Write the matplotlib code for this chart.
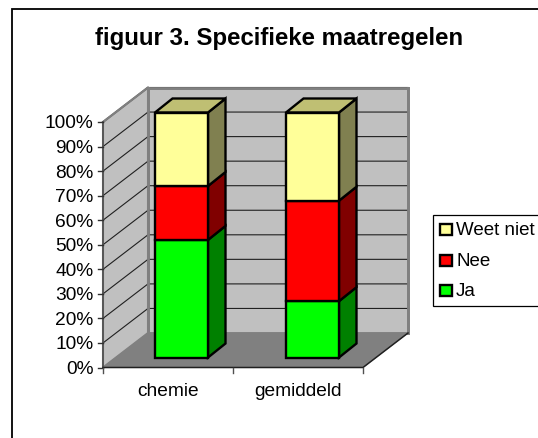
import matplotlib
matplotlib.use("Agg")
import matplotlib.pyplot as plt
from matplotlib.patches import Polygon, Rectangle

plt.rcParams["font.family"] = ["Liberation Sans", "DejaVu Sans"]

title = "figuur 3. Specifieke maatregelen"
categories = ["chemie", "gemiddeld"]
series = ["Ja", "Nee", "Weet niet"]
ja = [48, 23]
nee = [22, 41]
weet_niet = [30, 36]
ticks = [0, 10, 20, 30, 40, 50, 60, 70, 80, 90, 100]

colors = ["#00ff00", "#ff0000", "#ffff99"]
side = ["#008000", "#800000", "#808050"]
top = "#bfbf73"

W, H = 538, 439
fig = plt.figure(figsize=(W / 100, H / 100), dpi=100)
ax = fig.add_axes([0, 0, 1, 1])
ax.set_xlim(0, W)
ax.set_ylim(H, 0)
ax.axis("off")

# oblique box in pixels, the excel 3d look
X0, X1 = 103, 363
Y0, Y100 = 368.5, 123
DX, DY = 45, -34.5
GREY = "#808080"


def yv(v):
    return Y0 + (Y100 - Y0) * v / 100


def poly(pts, fc, ec="black", lw=0, z=2):
    ax.add_patch(Polygon(pts, closed=True, fc=fc, ec=ec, lw=lw, zorder=z, joinstyle="miter"))


# frame only shows on the top and left
ax.plot([11.5, 11.5, W], [H, 10, 10], color="black", lw=1.3, zorder=0, solid_joinstyle="miter")
ax.text(279.5, 38.5, title, ha="center", va="center", fontsize=17.3, fontweight="bold")

# walls and floor
poly([(X0 + DX, Y0 + DY), (X1 + DX, Y0 + DY), (X1 + DX, Y100 + DY), (X0 + DX, Y100 + DY)], "#c0c0c0", GREY, 2, 1)
poly([(X0, Y0), (X0 + DX, Y0 + DY), (X0 + DX, Y100 + DY), (X0, Y100)], "#c0c0c0", GREY, 1.5, 1)
poly([(X0, Y0), (X1, Y0), (X1 + DX, Y0 + DY), (X0 + DX, Y0 + DY)], GREY, GREY, 0.5, 1.2)

# gridlines
for t in ticks[1:]:
    ax.plot([X0, X0 + DX, X1 + DX], [yv(t), yv(t) + DY, yv(t) + DY], color="#202020", lw=0.8, zorder=1.5)
ax.plot([X0 + DX, X0 + DX], [Y0 + DY, Y100 + DY], color=GREY, lw=2, zorder=1.6)
ax.plot([X1 + DX, X1 + DX], [Y0 + DY, Y100 + DY], color=GREY, lw=2, zorder=1.6)
ax.plot([X0 + DX, X1 + DX], [Y100 + DY, Y100 + DY], color=GREY, lw=2, zorder=1.6)
ax.plot([X0, X0 + DX], [Y100, Y100 + DY], color=GREY, lw=1.5, zorder=1.6)

# axes
ax.plot([X0, X0], [Y100, Y0], color="#505050", lw=1.2, zorder=3)
ax.plot([X0, X1, X1 + DX], [Y0, Y0, Y0 + DY], color="#202020", lw=1.1, zorder=3)
for t in ticks:
    ax.plot([X0 - 5, X0], [yv(t), yv(t)], color="#303030", lw=1, zorder=3)
    ax.text(X0 - 9.5, yv(t) + 1, f"{t}%", ha="right", va="center", fontsize=13.8)
step = (X1 - X0) / len(categories)
for i in range(len(categories) + 1):
    ax.plot([X0 + i * step] * 2, [Y0, Y0 + 5], color="#505050", lw=1, zorder=3)

# bars
BW = 53
BDX, BDY = 17.5, -14
B0, B100 = 358.5, 113.5
bar_left = [155, 286]


def yb(v):
    return B0 + (B100 - B0) * v / 100


for i, cat in enumerate(categories):
    xl = bar_left[i]
    xr = xl + BW
    base = 0
    for vals, c, s in zip([ja, nee, weet_niet], colors, side):
        v = vals[i]
        y1, y2 = yb(base), yb(base + v)
        poly([(xr, y1), (xr + BDX, y1 + BDY), (xr + BDX, y2 + BDY), (xr, y2)], s, "black", 1.7, 4)
        poly([(xl, y1), (xr, y1), (xr, y2), (xl, y2)], c, "black", 1.7, 5)
        base += v
    y = yb(base)
    poly([(xl, y), (xr, y), (xr + BDX, y + BDY), (xl + BDX, y + BDY)], top, "black", 1.7, 4)
    ax.text(X0 + (i + 0.5) * step, 391.5, cat, ha="center", va="center", fontsize=13.8)

# legend
ax.add_patch(Rectangle((432.5, 215.5), 110, 91, fc="white", ec="black", lw=0.9, zorder=2))
for name, c, y in zip(series[::-1], colors[::-1], [230, 261, 291]):
    ax.add_patch(Rectangle((439.5, y - 5.5), 12, 11, fc=c, ec="black", lw=1.7, zorder=3))
    ax.text(456, y + 1, name, ha="left", va="center", fontsize=13.5)

fig.savefig("out.png", dpi=100)
